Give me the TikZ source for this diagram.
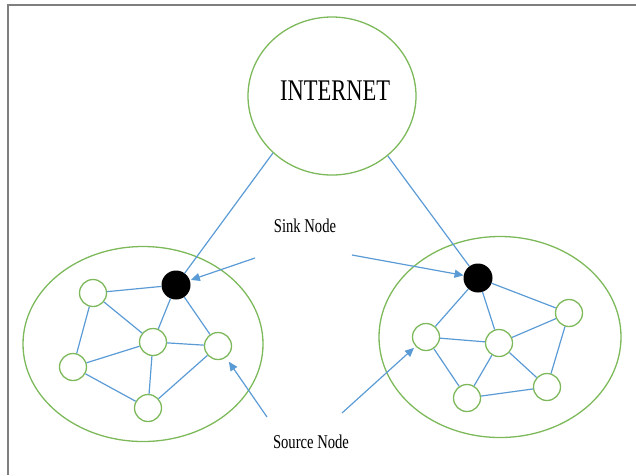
\documentclass[tikz,border=0pt]{standalone}
\usepackage{fontspec}
\setmainfont{Liberation Serif}
\newfontfamily\labelfont[FakeStretch=0.75]{Liberation Serif}
\usepackage{tikz}
\usetikzlibrary{shapes.geometric}
\usetikzlibrary{arrows.meta}
\definecolor{leafgreen}{HTML}{7DB95B}
\definecolor{linkblue}{HTML}{5B9BD5}
\definecolor{framegray}{HTML}{7F7F7F}

\begin{document}
\begin{tikzpicture}[x=1pt, y=-1pt,
  cluster/.style={ellipse, draw=leafgreen, line width=1.3pt, inner sep=0pt},
  sensor/.style={circle, draw=leafgreen, line width=1.3pt, fill=white, minimum size=27pt, inner sep=0pt},
  sink/.style={circle, fill=black, minimum size=29pt, inner sep=0pt},
  link/.style={draw=linkblue, line width=1.2pt},
  pointer/.style={draw=linkblue, line width=1.2pt, -{Triangle[length=9pt, width=8pt]}},
  caption/.style={font=\labelfont\fontsize{19.5}{20}\selectfont, inner sep=0pt, anchor=base}]

\useasboundingbox (0,0) rectangle (636,475);

% Frame
\draw[framegray, line width=2.5pt] (8,475) -- (8,5) -- (636,5);

% Internet
\node[cluster, minimum width=168pt, minimum height=158pt] (internet) at (332,96) {};
\node[font=\labelfont\fontsize{30}{30}\selectfont, inner sep=0pt, anchor=base] (internetlabel) at (335,100) {INTERNET};

% Left network
\node[cluster, minimum width=240pt, minimum height=195pt] (fieldL) at (143,344) {};
\node[sink] (sinkL) at (176,285) {};
\node[sensor] (aL) at (93,293) {};
\node[sensor] (bL) at (153,342) {};
\node[sensor] (cL) at (218,346) {};
\node[sensor] (dL) at (73,367) {};
\node[sensor] (eL) at (148,408) {};

\draw[link] (aL) -- (sinkL);
\draw[link] (aL) -- (bL);
\draw[link] (aL) -- (dL);
\draw[link] (sinkL) -- (bL);
\draw[link] (sinkL) -- (cL);
\draw[link] (bL) -- (cL);
\draw[link] (bL) -- (dL);
\draw[link] (bL) -- (eL);
\draw[link] (dL) -- (eL);
\draw[link] (cL) -- (eL);

% Right network
\node[cluster, minimum width=242pt, minimum height=201pt] (fieldR) at (500,337) {};
\node[sink] (sinkR) at (478,278) {};
\node[sensor] (fR) at (426,337) {};
\node[sensor] (gR) at (499,343) {};
\node[sensor] (hR) at (569,313) {};
\node[sensor] (iR) at (467,398) {};
\node[sensor] (jR) at (547,387) {};

\draw[link] (sinkR) -- (fR);
\draw[link] (sinkR) -- (gR);
\draw[link] (sinkR) -- (hR);
\draw[link] (fR) -- (gR);
\draw[link] (gR) -- (hR);
\draw[link] (fR) -- (iR);
\draw[link] (gR) -- (iR);
\draw[link] (gR) -- (jR);
\draw[link] (hR) -- (jR);
\draw[link] (iR) -- (jR);

% Uplinks to the internet
\draw[link] (internet.224) -- (sinkL);
\draw[link] (internet.313) -- (sinkR);

% Labels and pointers
\node[caption] (sinklabel) at (305,232) {Sink Node};
\node[caption] (sourcelabel) at (311,448) {Source Node};

\coordinate (sinktailL) at (255,258);
\coordinate (sinktailR) at (352,255);
\coordinate (sourcetailL) at (267,417);
\coordinate (sourcetailR) at (342,413);

\draw[pointer, shorten >=1pt] (sinktailL) -- (sinkL);
\draw[pointer] (sinktailR) -- (sinkR);
\draw[pointer, shorten >=5pt] (sourcetailL) -- (cL);
\draw[pointer, shorten >=2pt] (sourcetailR) -- (fR);

\end{tikzpicture}
\end{document}
